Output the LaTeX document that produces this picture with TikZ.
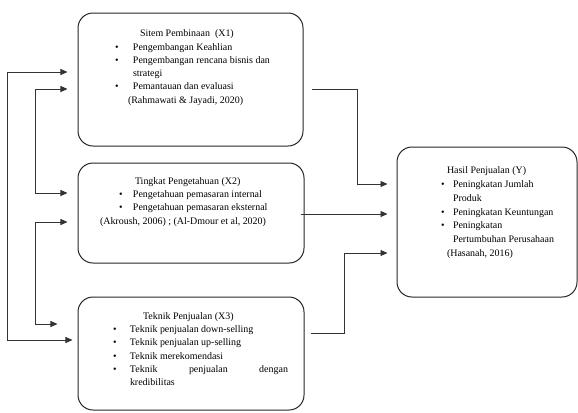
\documentclass[tikz,border=0pt]{standalone}
\usepackage{fontspec}
\setmainfont{Liberation Serif}
\usetikzlibrary{arrows.meta,calc}

% box content: width, height, top gap, left gap, text width, text
\newcommand{\isikotak}[6]{%
  \begin{minipage}[c][#2][t]{#1}
    \vspace*{#3}\hspace*{#4}%
    \begin{minipage}[t]{#5}\raggedright #6\end{minipage}
  \end{minipage}}
% one bulleted line: gap from bullet to text, text
\newcommand{\butir}[2]{\par\hangindent=#1\hangafter=1\noindent\makebox[#1][l]{\textbullet}#2}
% a plain line moved right
\newcommand{\baris}[2]{\par\noindent\hspace*{#1}#2}

\begin{document}
\begin{tikzpicture}[
  x=1bp, y=-1bp,
  kotak/.style={draw=black!85,line width=1bp,rounded corners=15bp,inner sep=0pt,
    font=\fontsize{10}{13.3}\selectfont},
  panah/.style={-{Triangle[length=7bp,width=6bp]},line width=0.8bp,draw=black!80},
  duapanah/.style={{Triangle[length=7bp,width=6bp]}-{Triangle[length=7bp,width=6bp]},line width=0.8bp,draw=black!80}
]
  \useasboundingbox (0,0) rectangle (578,412);

  \node[kotak] (sistem) at (190.5,79.5) {\isikotak{225bp}{133bp}{17bp}{37bp}{180bp}{%
    \baris{25bp}{Sitem Pembinaan\ \ (X1)}
    \butir{18bp}{Pengembangan Keahlian}
    \butir{18bp}{Pengembangan rencana bisnis dan\newline strategi}
    \butir{18bp}{Pemantauan dan evaluasi}
    \baris{13bp}{(Rahmawati \& Jayadi, 2020)}}};

  \node[kotak] (pengetahuan) at (191,213) {\isikotak{226bp}{100bp}{14.5bp}{41bp}{180bp}{%
    \baris{16bp}{Tingkat Pengetahuan (X2)}
    \butir{14bp}{Pengetahuan pemasaran internal}
    \butir{14bp}{Pengetahuan pemasaran eksternal}
    \baris{-19bp}{(Akroush, 2006) ; (Al-Dmour et al, 2020)}}};

  \node[kotak] (teknik) at (191,353.5) {\isikotak{226bp}{113bp}{15.5bp}{35bp}{180bp}{%
    \baris{30bp}{Teknik Penjualan (X3)}
    \butir{17bp}{Teknik penjualan down-selling}
    \butir{17bp}{Teknik penjualan up-selling}
    \butir{17bp}{Teknik merekomendasi}
    \butir{17bp}{\parbox[t]{158bp}{Teknik penjualan dengan\linebreak kredibilitas}}}};

  \node[kotak, font=\fontsize{10}{13.8}\selectfont] (hasil) at (487,222) {\isikotak{180bp}{150bp}{20bp}{44bp}{132bp}{%
    \baris{6bp}{Hasil Penjualan (Y)}
    \butir{12bp}{Peningkatan Jumlah\newline Produk}
    \butir{12bp}{Peningkatan Keuntungan}
    \butir{12bp}{Peningkatan\newline Pertumbuhan Perusahaan}
    \baris{6bp}{(Hasanah, 2016)}}};

  % left side
  \draw[duapanah] ($(sistem.west)+(-10,-7.5)$) -- ++(-60,0) |- ($(teknik.west)+(-5,-13.5)$);
  \draw[duapanah] ($(sistem.west)+(-10,9.5)$) -- ++(-32,0) |- ($(pengetahuan.west)+(-10,-20)$);
  \draw[duapanah] ($(pengetahuan.west)+(-10,9)$) -- ++(-32,0) |- ($(teknik.west)+(-20,-29.5)$);

  % right side
  \draw[panah] ($(sistem.east)+(8,9.5)$) -- ++(46,0) |- ($(hasil.west)+(-9,-38)$);
  \draw[panah] ($(pengetahuan.east)+(-4,1)$) -- ($(hasil.west)+(-9,-8)$);
  \draw[panah] ($(teknik.east)+(6,-20.5)$) -- ++(34,0) |- ($(hasil.west)+(-9,31)$);
\end{tikzpicture}
\end{document}
